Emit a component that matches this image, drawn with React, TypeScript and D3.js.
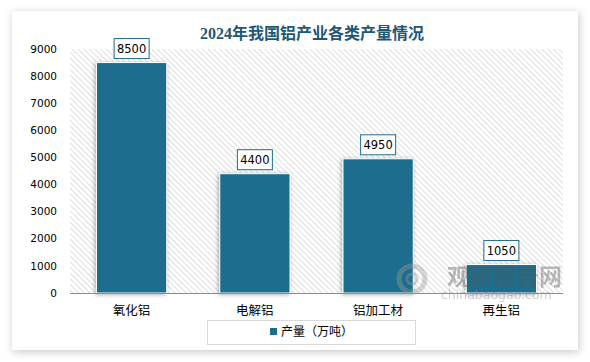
import React from 'react';
import * as d3 from 'd3';

const categories = ['氧化铝', '电解铝', '铝加工材', '再生铝'];
const production = [8500, 4400, 4950, 1050];
const yTicks = [0, 1000, 2000, 3000, 4000, 5000, 6000, 7000, 8000, 9000];
const title = '2024年我国铝产业各类产量情况';
const seriesName = '产量（万吨）';

const width = 590;
const height = 362;
const plot = { left: 70, right: 563, top: 49, bottom: 293 };
const barColor = '#1e6d8e';

const App = () => {
  const x = d3.scaleBand<string>()
    .domain(categories)
    .range([plot.left, plot.right])
    .paddingInner(0.43)
    .paddingOuter(0.215);

  const y = d3.scaleLinear()
    .domain([0, 9000])
    .range([plot.bottom, plot.top]);

  return (
    <svg width={width} height={height}
      style={{ position: 'fixed', left: 0, top: 0, background: '#fff' }}>
      <defs>
        <pattern id="hatch" width="4" height="4" patternUnits="userSpaceOnUse"
          patternTransform="rotate(-45)">
          <rect width="4" height="4" fill="#fff" />
          <line x1="0" y1="0" x2="0" y2="4" stroke="#d6d6d6" strokeWidth="1.6" />
        </pattern>
        <filter id="cardShadow" x="-10%" y="-10%" width="120%" height="120%">
          <feDropShadow dx="1" dy="2" stdDeviation="4" floodColor="#000" floodOpacity="0.22" />
        </filter>
        <filter id="barShadow" x="-20%" y="-20%" width="140%" height="140%">
          <feDropShadow dx="-1" dy="1" stdDeviation="2" floodColor="#000" floodOpacity="0.35" />
        </filter>
      </defs>

      {/* card */}
      <rect x={12} y={11} width={566} height={339} fill="#fff" filter="url(#cardShadow)" />

      {/* title */}
      <text x={312} y={39} textAnchor="middle" fontSize={16} fontWeight="bold"
        fill="#1d5878" fontFamily="'Liberation Serif', 'Noto Sans CJK SC', serif">
        {title}
      </text>

      {/* hatched plot area */}
      <rect x={plot.left} y={plot.top} width={plot.right - plot.left}
        height={plot.bottom - plot.top} fill="url(#hatch)" />

      {/* y tick labels */}
      {yTicks.map(t => (
        <text key={t} x={57} y={y(t)} dy="0.35em" textAnchor="end" fontSize={10.5}
          fill="#000" fontFamily="'DejaVu Sans', sans-serif">
          {t}
        </text>
      ))}

      {/* bars */}
      {categories.map((c, i) => (
        <rect key={c} x={x(c)} y={y(production[i])} width={x.bandwidth()}
          height={plot.bottom - y(production[i])} fill={barColor}
          stroke="#fff" strokeWidth={1} filter="url(#barShadow)" />
      ))}

      {/* baseline */}
      <line x1={plot.left} x2={plot.right} y1={plot.bottom + 0.5} y2={plot.bottom + 0.5}
        stroke="#8c8c8c" strokeWidth={1} />

      {/* value labels */}
      {categories.map((c, i) => {
        const cx = (x(c) as number) + x.bandwidth() / 2;
        const top = y(production[i]);
        return (
          <g key={c}>
            <rect x={cx - 17.5} y={top - 24} width={35} height={20} fill="#fff"
              stroke="#1e6d8e" strokeWidth={1} />
            <text x={cx} y={top - 14} dy="0.36em" textAnchor="middle" fontSize={11.5}
              fill="#000" fontFamily="'DejaVu Sans', sans-serif">
              {production[i]}
            </text>
          </g>
        );
      })}

      {/* category labels */}
      {categories.map(c => (
        <text key={c} x={(x(c) as number) + x.bandwidth() / 2} y={311} dy="0.35em"
          textAnchor="middle" fontSize={12.5} fill="#000"
          fontFamily="'Noto Sans CJK SC', sans-serif">
          {c}
        </text>
      ))}

      {/* watermark */}
      <g opacity={0.4} fontFamily="'Noto Sans CJK SC', sans-serif">
        <circle cx={412} cy={279} r={13} fill="none" stroke="#9a9a9a" strokeWidth={5} />
        <circle cx={412} cy={279} r={5} fill="none" stroke="#9a9a9a" strokeWidth={3} />
        <text x={447} y={285} fontSize={23} fontWeight="bold" fill="#555">观研报告网</text>
        <text x={441} y={299} fontSize={12.5} fill="#888"
          fontFamily="'DejaVu Sans', sans-serif">chinabaogao.com</text>
      </g>

      {/* legend */}
      <rect x={207.5} y={320.5} width={208} height={24} fill="#fff" stroke="#d9d9d9" strokeWidth={1} />
      <rect x={270} y={328} width={7} height={7} fill={barColor} />
      <text x={281} y={332} dy="0.35em" fontSize={12} fill="#000"
        fontFamily="'Noto Sans CJK SC', sans-serif">
        {seriesName}
      </text>
    </svg>
  );
};

export default App;
